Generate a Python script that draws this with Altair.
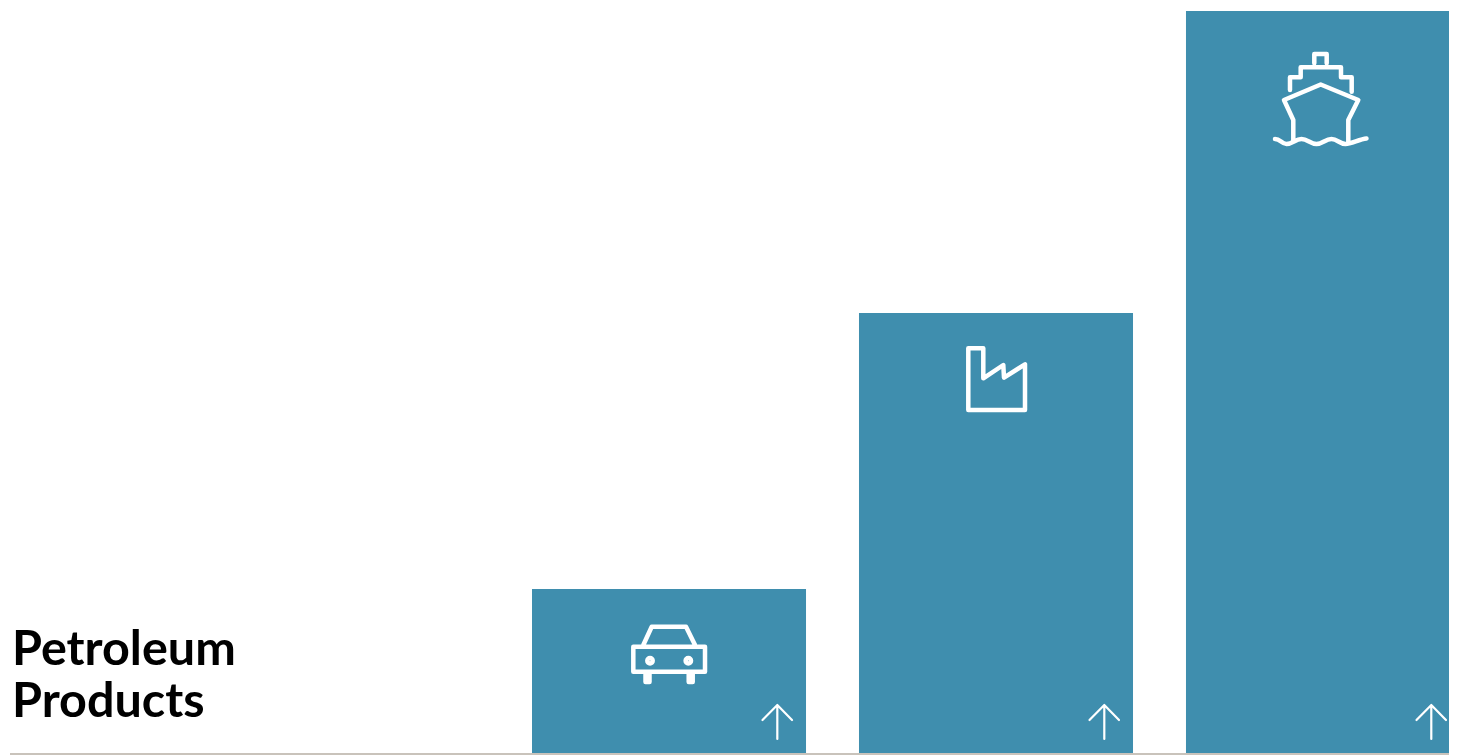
import altair as alt
import pandas as pd

categories = ["Cars", "Factories", "Ships"]
values = [164, 440, 742]
baseline_values = [0, 0, 0]
label = ["Petroleum\nProducts"]

# Glyph outlines, in pixels relative to the bar's top centre
car = ("M-35.7 57.7H36V82.7H-35.7Z M-25.7 56L-17.3 37.7H17L26 56 "
       "M-23.5 84V93H-19.5V84Z M19.7 84V93H23.7V84Z "
       "M-21.7 71.7a2.7 2.7 0 1 0 5.4 0a2.7 2.7 0 1 0 -5.4 0Z M-20 71.7a1 1 0 1 0 2 0a1 1 0 1 0 -2 0Z "
       "M16.6 71.7a2.7 2.7 0 1 0 5.4 0a2.7 2.7 0 1 0 -5.4 0Z M18.3 71.7a1 1 0 1 0 2 0a1 1 0 1 0 -2 0Z")
factory = "M-27.7 97V35.3H-12.7V65.3L7.3 52L8 64.7L29 51.3V97Z"
ship = ("M-8.7 52.3V43H3.7V52.3 "
        "M-33 79V66.3H-22.3V56.3H18V66.3H28.7V80.7 "
        "M-29.7 130.7V109L-39 89L-2.3 73.5L35.3 89L25.3 109V130.7 "
        "M-48 128C-42.5 128 -41.5 133 -36.5 133C-30.5 133 -27.5 128 -21.5 128C-15.5 128 -12.5 133 -6.5 133"
        "C-0.5 133 2.5 128 8.5 128C14.5 128 16.5 133 22.5 133C28.5 133 36.5 128 43.5 127.5")
arrow = "M108.3 -14V-48M93.5 -33L108.3 -48L123 -33"
icons = [car, factory, ship]

df = pd.DataFrame({"category": categories, "value": values, "base": baseline_values})
x = alt.X("category:N", axis=None, sort=categories,
          scale=alt.Scale(domain=categories, range=[524, 1452], paddingInner=0.162, paddingOuter=0))
yscale = alt.Scale(domain=[0, 745], range=[745, 0])
y = alt.Y("value:Q", axis=None, scale=yscale)
y0 = alt.Y("base:Q", axis=None, scale=yscale)

bars = alt.Chart(df).mark_bar(color="#3f8eae", cornerRadius=0).encode(x=x, y=y, y2="base:Q")

glyphs = alt.Chart(df).mark_point(
    filled=False, opacity=1, stroke="white", strokeWidth=4.5, strokeJoin="round", strokeCap="round"
).encode(
    x=x, y=y, size=alt.value(4),
    shape=alt.Shape("category:N", scale=alt.Scale(domain=categories, range=icons), legend=None),
)

arrows = alt.Chart(df).mark_point(
    filled=False, opacity=1, stroke="white", strokeWidth=2.2, strokeCap="round", strokeJoin="round", shape=arrow
).encode(x=x, y=y0, size=alt.value(4))

baseline = alt.Chart(df.head(1)).mark_rule(color="#c9c3bb", strokeWidth=2, yOffset=1).encode(
    x=alt.value(2), x2=alt.value(1441), y=y0
)

title = alt.Chart(pd.DataFrame({"label": label})).mark_text(
    font="Lato", fontSize=48.5, fontWeight="bold", align="left", baseline="alphabetic",
    lineBreak="\n", lineHeight=52, color="black"
).encode(x=alt.value(4), y=alt.value(657), text="label:N")

chart = alt.layer(bars, baseline, glyphs, arrows, title).properties(
    width=1441, height=747, padding=0, autosize=alt.AutoSizeParams(type="none"), background="white"
).configure_view(stroke=None)

chart.save("out.html", embed_options={"renderer": "svg", "actions": False})
